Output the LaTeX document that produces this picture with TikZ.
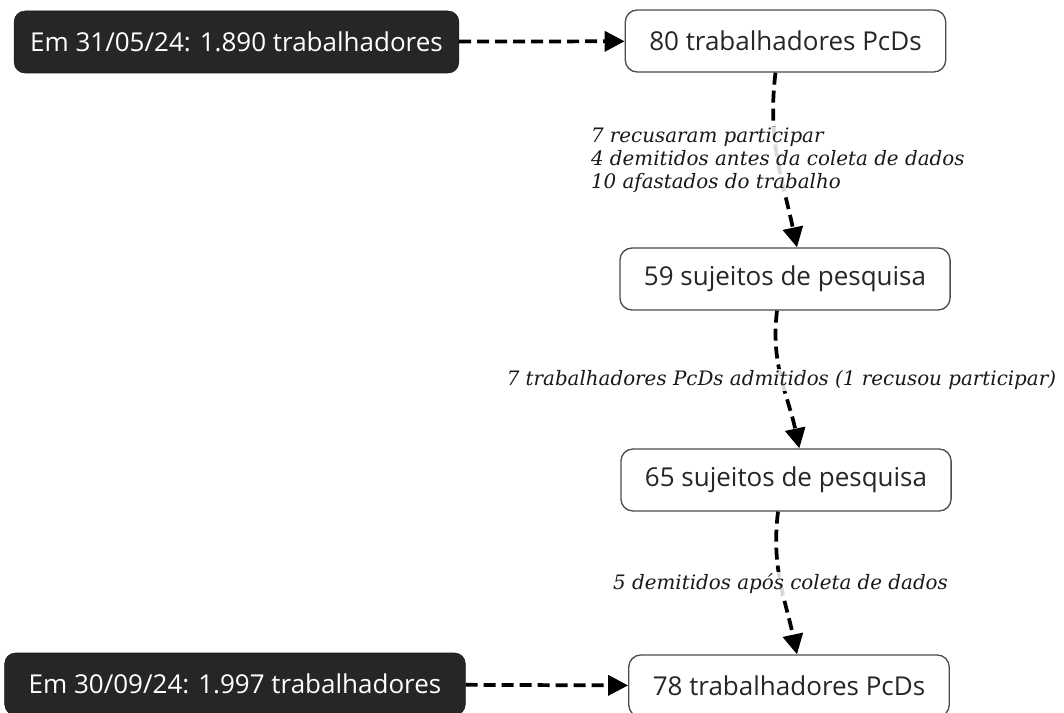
\documentclass[tikz,border=0pt]{standalone}
\usepackage{fontspec}
\setmainfont{Open Sans}
\newfontfamily\notefont{DejaVu Serif}
\usetikzlibrary{arrows.meta}

\begin{document}
\begin{tikzpicture}[x=0.75pt,y=-0.75pt,
  dark node/.style={rectangle,rounded corners=8pt,draw=black!90,fill=black!85,text=white,
    font=\fontsize{19.5}{23}\selectfont,minimum height=46.5pt,inner xsep=16pt},
  main node/.style={rectangle,rounded corners=9pt,draw=black!70,line width=1pt,fill=white,
    text=black!85,font=\fontsize{19.5}{23}\selectfont,minimum height=46.5pt,inner xsep=18pt},
  flow/.style={line width=2.8pt,dash pattern=on 9pt off 4.5pt,
    -{Triangle[length=15pt,width=15pt]}},
  note/.style={font=\notefont\itshape\fontsize{14.9}{17}\selectfont,align=left,
    text=black!90,fill=white,fill opacity=0.85,text opacity=1,inner sep=1pt}]

  \useasboundingbox (0,0) rectangle (1064,713);

  \node[dark node,inner xsep=12pt] (jun) at (236.5,42) {Em 31/05/24: 1.890 trabalhadores};
  \node[main node] (p80) at (785.5,41) {80 trabalhadores PcDs};
  \node[main node] (s59) at (785,279) {59 sujeitos de pesquisa};
  \node[main node] (s65) at (786,480) {65 sujeitos de pesquisa};
  \node[main node] (p78) at (789,686) {78 trabalhadores PcDs};
  \node[dark node,inner xsep=18pt] (set) at (235,684) {Em 30/09/24: 1.997 trabalhadores};

  \path[flow]
    (jun) edge (p80)
    (set) edge (p78)
    ([xshift=-7.5pt]p80.south) edge[out=-97,in=102] node[note]
      {7 recusaram participar\\4 demitidos antes da coleta de dados\\10 afastados do trabalho}
      ([xshift=9pt]s59.north)
    ([xshift=-6pt]s59.south) edge[out=-97,in=102] node[note]
      {7 trabalhadores PcDs admitidos (1 recusou participar)}
      ([xshift=10pt]s65.north)
    ([xshift=-6pt]s65.south) edge[out=-97,in=102] node[note]
      {5 demitidos após coleta de dados}
      ([xshift=6pt]p78.north);
\end{tikzpicture}
\end{document}
